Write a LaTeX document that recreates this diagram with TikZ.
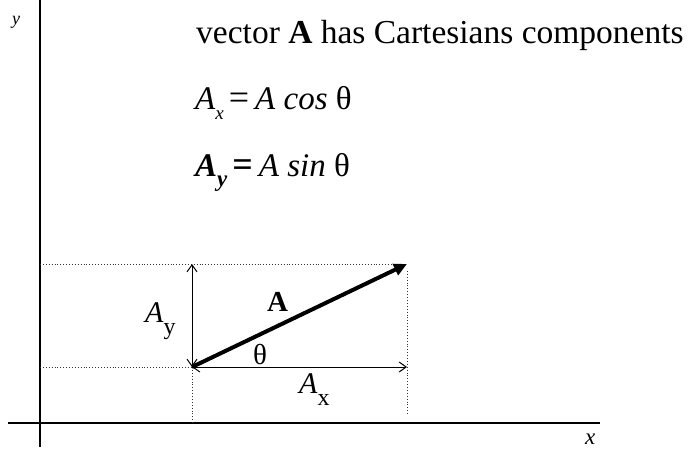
\documentclass[tikz,border=0pt]{standalone}
\usepackage{fontspec}
\setmainfont{Liberation Serif}
\usetikzlibrary{arrows.meta}
\begin{document}
\begin{tikzpicture}[x=1pt,y=-1pt,
  axis/.style={line width=2pt},
  guide/.style={dotted,line width=0.9pt,black!80},
  comp/.style={line width=1pt,{Straight Barb[length=7pt,width=10pt]}-{Straight Barb[length=7pt,width=10pt]}},
  vec/.style={line width=4pt,-{Triangle[length=13pt,width=12pt]}},
  lbl/.style={inner sep=0pt,anchor=base west,font=\fontsize{30}{30}\selectfont}]
\useasboundingbox (0,0) rectangle (691,449);
% key points
\coordinate (O) at (192,367);
\coordinate (T) at (407,264);
\coordinate (Ty) at (192,264);
\coordinate (Tx) at (407,367);
\coordinate (YL) at (40,264);
\coordinate (YL2) at (40,367);
\coordinate (TxTop) at (407,271);
\coordinate (TxBot) at (407,414);
\coordinate (Obot) at (192,423);
\coordinate (ytop) at (40,0);
\coordinate (ybot) at (40,447);
\coordinate (xl) at (8,422.7);
\coordinate (xr) at (600,422.7);
% axes
\draw[axis] (ytop) -- (ybot);
\draw[axis] (xl) -- (xr);
% guides
\draw[guide] (YL) -- (T);
\draw[guide] (YL2) -- (O);
\draw[guide] (O) -- (Obot);
\draw[guide] (TxTop) -- (TxBot);
% components
\draw[comp] (O) -- (Ty);
\draw[comp] (O) -- (Tx);
% vector
\draw[vec] (O) -- (T);
% labels
\node[lbl,font=\fontsize{18}{18}\selectfont\itshape] (ylab) at (12,25) {y};
\node[lbl,font=\fontsize{23}{23}\selectfont\itshape] (xlab) at (585,444) {x};
\node[lbl,font=\fontsize{33.5}{33.5}\selectfont] (t1) at (196,44) {vector \textbf{A} has Cartesians components};
\node[lbl,font=\fontsize{33}{33}\selectfont] (t2) at (195,110) {\textit{A}\raisebox{-0.3em}{\fontsize{19}{19}\selectfont\itshape x}\kern5pt{\fontsize{36}{36}\selectfont=}\kern6pt\textit{A cos} θ};
\node[lbl,font=\fontsize{33}{33}\selectfont] (t3) at (195,177) {\textbf{\textit{A}}\raisebox{-0.3em}{\fontsize{23}{23}\selectfont\bfseries\itshape y}\kern5pt{\fontsize{36}{36}\selectfont\bfseries=}\kern6pt\textit{A sin} θ};
\node[lbl] (aylab) at (145,322) {\textit{A}\raisebox{-12pt}{\fontsize{24}{24}\selectfont y}};
\node[lbl,font=\fontsize{29}{29}\selectfont\bfseries] (alab) at (267,312) {A};
\node[lbl,font=\fontsize{29}{29}\selectfont] (thlab) at (253,364) {θ};
\node[lbl] (axlab) at (299,393) {\textit{A}\raisebox{-12pt}{\fontsize{24}{24}\selectfont x}};
\end{tikzpicture}
\end{document}
